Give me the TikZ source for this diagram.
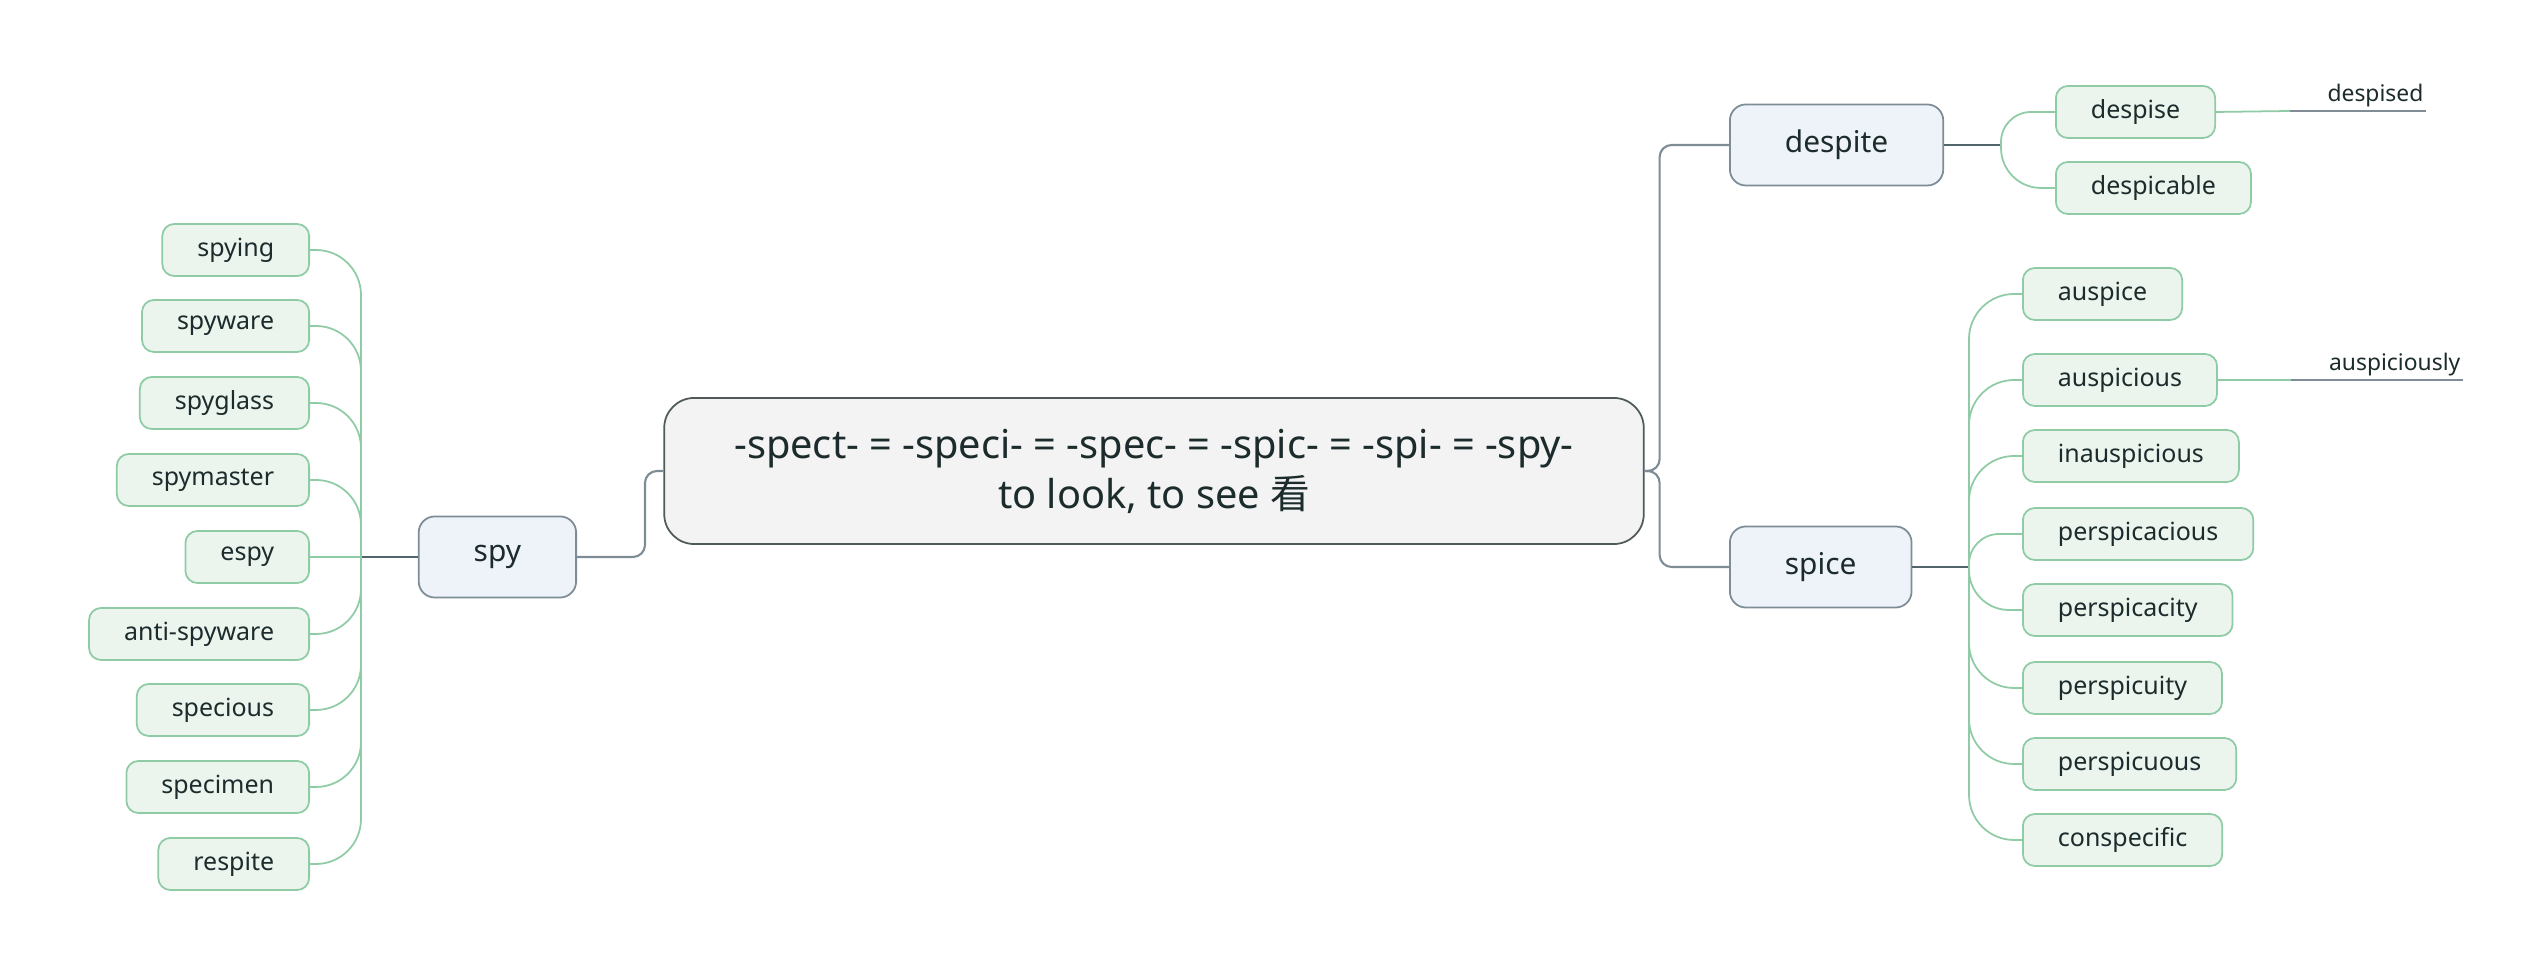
\documentclass[tikz,border=0pt]{standalone}
\usepackage{fontspec}
\setmainfont{Noto Sans}
\newfontfamily\cjkfont{Noto Sans CJK SC}
\usepackage{tikz}
\usetikzlibrary{positioning}
\definecolor{MainFill}{RGB}{243,243,243}
\definecolor{MainEdge}{RGB}{80,90,90}
\definecolor{TopicFill}{RGB}{238,243,250}
\definecolor{TopicEdge}{RGB}{126,140,150}
\definecolor{LeafFill}{RGB}{235,245,238}
\definecolor{LeafEdge}{RGB}{143,203,165}
\definecolor{StubDark}{RGB}{82,101,107}
\definecolor{TagGrey}{RGB}{130,140,150}
\definecolor{TextDark}{RGB}{28,43,43}
\tikzset{
  mainbox/.style={draw=MainEdge,fill=MainFill,rounded corners=0.3cm,line width=0.5pt,minimum height=1.46cm,inner xsep=0.7cm,align=center,font=\fontsize{11.3}{14.2}\selectfont},
  topicbox/.style={draw=TopicEdge,fill=TopicFill,rounded corners=0.16cm,line width=0.5pt,minimum height=0.81cm,inner xsep=0.55cm,font=\fontsize{8.5}{10}\selectfont},
  leafbox/.style={draw=LeafEdge,fill=LeafFill,rounded corners=0.12cm,line width=0.5pt,minimum height=0.52cm,inner xsep=0.35cm,font=\fontsize{7.1}{8.5}\selectfont},
  tagnote/.style={inner xsep=0.02cm,inner ysep=0.03cm,font=\fontsize{6.5}{8}\selectfont},
  mainline/.style={draw=TopicEdge,line width=0.6pt,rounded corners=0.12cm},
  stubline/.style={draw=StubDark,line width=0.6pt},
  leafline/.style={draw=LeafEdge,line width=0.5pt,rounded corners=0.45cm},
  tagline/.style={draw=TagGrey,line width=0.5pt},
}
\begin{document}
\begin{tikzpicture}[x=0.01cm,y=-0.01cm,text=TextDark]
    \useasboundingbox (0,0) rectangle (2541,965);
    %% Central topic
    \node[mainbox] (central) at (1154,471) {-spect- = -speci- = -spec- = -spic- = -spi- = -spy-\\to look, to see {\cjkfont 看}};
    %% Main topics
    \node[topicbox,anchor=east] (spy)     at (577,557)  {spy};
    \node[topicbox,anchor=west] (despite) at (1729,145) {despite};
    \node[topicbox,anchor=west] (spice)   at (1729,567) {spice};
    %% Trunks
    \coordinate (spytrunk)     at (361,557);
    \coordinate (despitetrunk) at (2001,145);
    \coordinate (spicetrunk)   at (1969,567);
    %% spy words
    \node[leafbox,anchor=east] (spying)      at (310,250) {spying};
    \node[leafbox,anchor=east] (spyware)     at (310,326) {spyware};
    \node[leafbox,anchor=east] (spyglass)    at (310,403) {spyglass};
    \node[leafbox,anchor=east] (spymaster)   at (310,480) {spymaster};
    \node[leafbox,anchor=east] (espy)        at (310,557) {espy};
    \node[leafbox,anchor=east] (antispyware) at (310,634) {anti-spyware};
    \node[leafbox,anchor=east] (specious)    at (310,710) {specious};
    \node[leafbox,anchor=east] (specimen)    at (310,787) {specimen};
    \node[leafbox,anchor=east] (respite)     at (310,864) {respite};
    %% despite words
    \node[leafbox,anchor=west] (despise)    at (2055,112) {despise};
    \node[leafbox,anchor=west] (despicable) at (2055,188) {despicable};
    %% spice words
    \node[leafbox,anchor=west] (auspice)       at (2022,294) {auspice};
    \node[leafbox,anchor=west] (auspicious)    at (2022,380) {auspicious};
    \node[leafbox,anchor=west] (inauspicious)  at (2022,456) {inauspicious};
    \node[leafbox,anchor=west] (perspicacious) at (2022,534) {perspicacious};
    \node[leafbox,anchor=west] (perspicacity)  at (2022,610) {perspicacity};
    \node[leafbox,anchor=west] (perspicuity)   at (2022,688) {perspicuity};
    \node[leafbox,anchor=west] (perspicuous)   at (2022,764) {perspicuous};
    \node[leafbox,anchor=west] (conspecific)   at (2022,840) {conspecific};
    %% Notes
    \node[tagnote,anchor=south east] (despised)     at (2426,111) {despised};
    \node[tagnote,anchor=south east] (auspiciously) at (2463,380) {auspiciously};
    %% Central to main topics
    \draw[mainline] (spy.east) -- ++(68,0) |- (central.west);
    \draw[mainline] (central.east) -- ++(15,0) |- (despite.west);
    \draw[mainline] (central.east) -- ++(15,0) |- (spice.west);
    %% Stubs
    \draw[stubline] (spy.west) -- (spytrunk);
    \draw[stubline] (despite.east) -- (despitetrunk);
    \draw[stubline] (spice.east) -- (spicetrunk);
    %% spy branches
    \draw[leafline] (spytrunk) |- (spying.east);
    \draw[leafline] (spytrunk) |- (spyware.east);
    \draw[leafline] (spytrunk) |- (spyglass.east);
    \draw[leafline] (spytrunk) |- (spymaster.east);
    \draw[leafline] (spytrunk) -- (espy.east);
    \draw[leafline] (spytrunk) |- (antispyware.east);
    \draw[leafline] (spytrunk) |- (specious.east);
    \draw[leafline] (spytrunk) |- (specimen.east);
    \draw[leafline] (spytrunk) |- (respite.east);
    %% despite branches
    \draw[leafline,rounded corners=0.3cm] (despitetrunk) |- (despise.west);
    \draw[leafline,rounded corners=0.4cm] (despitetrunk) |- (despicable.west);
    %% spice branches
    \draw[leafline] (spicetrunk) |- (auspice.west);
    \draw[leafline] (spicetrunk) |- (auspicious.west);
    \draw[leafline] (spicetrunk) |- (inauspicious.west);
    \draw[leafline,rounded corners=0.3cm] (spicetrunk) |- (perspicacious.west);
    \draw[leafline,rounded corners=0.4cm] (spicetrunk) |- (perspicacity.west);
    \draw[leafline] (spicetrunk) |- (perspicuity.west);
    \draw[leafline] (spicetrunk) |- (perspicuous.west);
    \draw[leafline] (spicetrunk) |- (conspecific.west);
    %% Notes
    \draw[leafline] (despise.east) -- ([xshift=-0.35cm]despised.south west);
    \draw[tagline] ([xshift=-0.35cm]despised.south west) -- (despised.south east);
    \draw[leafline] (auspicious.east) -- ([xshift=-0.35cm]auspiciously.south west);
    \draw[tagline] ([xshift=-0.35cm]auspiciously.south west) -- (auspiciously.south east);
  \end{tikzpicture}
\end{document}
